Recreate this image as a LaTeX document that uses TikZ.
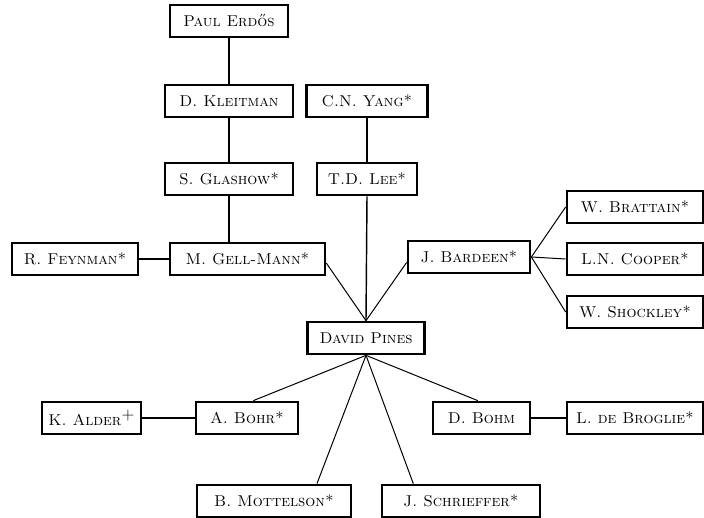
\documentclass[tikz,border=0pt]{standalone}
\begin{document}
\begin{tikzpicture}[x=0.7pt,y=-0.7pt,
  person/.style={draw,line width=1.9pt,minimum height=22.4pt,inner sep=0pt,font=\fontsize{11}{13}\selectfont\scshape},
  bw/.style={minimum width=#1*0.7pt},
  tie/.style={line width=1pt},
  slant/.style={line width=0.7pt}]
\useasboundingbox (0,0) rectangle (704,518);

% Upper left line
\node[person,bw=118] (erdos) at (229,21) {Paul Erd\H{o}s};
\node[person,bw=128] (kleitman) at (229,101) {D. Kleitman};
\node[person,bw=128] (glashow) at (229,179) {S. Glashow*};
\node[person,bw=155] (gellmann) at (247.5,259) {M. Gell-Mann*};
\node[person,bw=126] (feynman) at (75,259) {R. Feynman*};

% Upper middle line
\node[person,bw=121] (yang) at (367,101) {C.N. Yang*};
\node[person,bw=100] (lee) at (367,179) {T.D. Lee*};
\node[person,bw=122] (bardeen) at (469,257) {J. Bardeen*};

% Right column
\node[person,bw=136] (brattain) at (635,207) {W. Brattain*};
\node[person,bw=136] (cooper) at (635,259) {L.N. Cooper*};
\node[person,bw=136] (shockley) at (635,312) {W. Shockley*};

% Centre
\node[person,bw=117] (pines) at (366,338) {David Pines};

% Lower part
\node[person,bw=99] (alder) at (91.5,418) {K. Alder\raisebox{0.7ex}{+}};
\node[person,bw=102] (bohr) at (247,418) {A. Bohr*};
\node[person,bw=97] (bohm) at (481.5,418) {D. Bohm};
\node[person,bw=136] (broglie) at (635,418) {L. de Broglie*};
\node[person,bw=154] (mottelson) at (274,501) {B. Mottelson*};
\node[person,bw=158] (schrieffer) at (461,501) {J. Schrieffer*};

% Straight links
\draw[tie] (erdos) -- (kleitman);
\draw[tie] (kleitman) -- (glashow);
\draw[tie] (glashow.south) -- (glashow.south |- gellmann.north);
\draw[tie] (feynman) -- (gellmann);
\draw[tie] (yang) -- (lee);
\draw[tie] (lee.south) -- (pines.north);
\draw[tie] (alder) -- (bohr);
\draw[tie] (bohm) -- (broglie);

% Slanted links
\draw[slant] (gellmann.-3) -- (pines.north);
\draw[slant] (bardeen.185) -- (pines.north);
\draw[slant] (bardeen.east) -- (brattain.west);
\draw[slant] (bardeen.east) -- (cooper.west);
\draw[slant] (bardeen.east) -- (shockley.west);
\draw[slant] (pines.south) -- (bohr.70);
\draw[slant] (pines.south) -- (mottelson.22);
\draw[slant] (pines.south) -- (schrieffer.160);
\draw[slant] (pines.south) -- (bohm.102);

\end{tikzpicture}
\end{document}
